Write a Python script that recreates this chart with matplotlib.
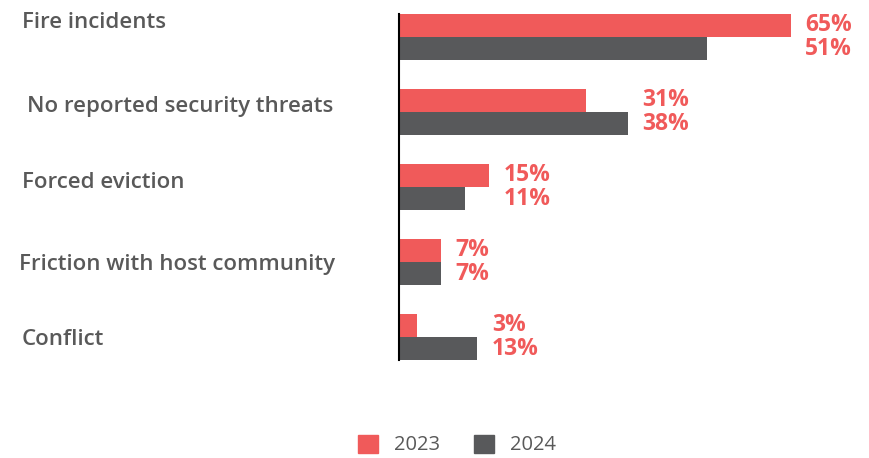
import numpy as np
import matplotlib.pyplot as plt
from matplotlib.patches import Patch
from matplotlib.transforms import blended_transform_factory

# data
categories = ["Fire incidents", "No reported security threats", "Forced eviction",
              "Friction with host community", "Conflict"]
vals_2023 = [65, 31, 15, 7, 3]
vals_2024 = [51, 38, 11, 7, 13]
years = ["2023", "2024"]

red = "#F05A5A"
gray = "#58595B"
txt = "#595959"

plt.rcParams['font.family'] = ['Open Sans', 'DejaVu Sans']

W, H = 870, 458
fig = plt.figure(figsize=(W / 100, H / 100), dpi=100)
ax = fig.add_axes([399 / W, 1 - 360 / H, 471 / W, 346 / H])

y = np.arange(len(categories))
bh = 0.307
ax.barh(y - bh / 2, vals_2023, height=bh, color=red)
ax.barh(y + bh / 2, vals_2024, height=bh, color=gray)

ax.set_xlim(0, 471 / 6.03)
ax.set_ylim(len(categories) - 1 + bh, -bh)

# value labels, placed after the longer bar of each group
for i in range(len(categories)):
    xl = max(vals_2023[i], vals_2024[i]) + 2.4
    ax.text(xl, y[i] - bh / 2 - 0.01, f"{vals_2023[i]}%", color=red, fontsize=16.5,
            fontweight='bold', va='center', ha='left')
    ax.text(xl, y[i] + bh / 2 + 0.01, f"{vals_2024[i]}%", color=red, fontsize=16.5,
            fontweight='bold', va='center', ha='left')

# category labels on the left (x in figure coords, y in data)
trans = blended_transform_factory(fig.transFigure, ax.transData)
label_dy = [-0.19, -0.08, -0.06, 0.03, 0.03]
label_x = [22, 27, 22, 19, 22]
for i, c in enumerate(categories):
    ax.text(label_x[i] / W, y[i] + label_dy[i], c, transform=trans,
            color=txt, fontsize=16, fontweight='semibold', va='center', ha='left')

ax.set_xticks([])
ax.set_yticks([])
for s in ["top", "right", "bottom"]:
    ax.spines[s].set_visible(False)
ax.spines["left"].set_color("black")
ax.spines["left"].set_linewidth(1.5)

handles = [Patch(color=red), Patch(color=gray)]
fig.legend(handles, years, loc='center', bbox_to_anchor=(457 / W, 1 - 445 / H),
           ncol=2, frameon=False, fontsize=14.5, labelcolor=txt,
           handlelength=1.0, handleheight=1.0, columnspacing=1.7, handletextpad=0.8)

fig.savefig("out.png", dpi=100)
